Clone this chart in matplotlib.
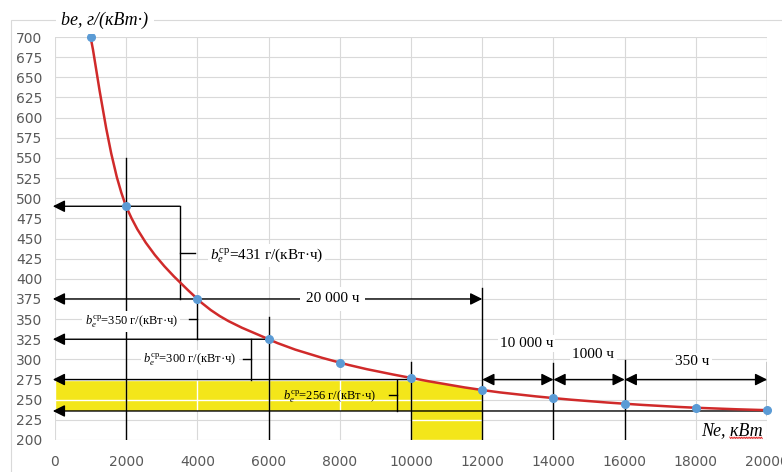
import numpy as np
import matplotlib.pyplot as plt
from matplotlib.path import Path
from matplotlib.patches import PathPatch, Polygon, Rectangle
from matplotlib.lines import Line2D

# specific fuel consumption vs engine power
ne = [1000, 2000, 4000, 6000, 8000, 10000, 12000, 14000, 16000, 18000, 20000]
be = [700, 490, 375, 325, 296, 277, 262, 252, 245, 240, 237]

x_ticks = list(range(0, 20001, 2000))
y_ticks = list(range(200, 701, 25))

be_mean = [431, 350, 300, 256]
hours = ["20 000 ч", "10 000 ч", "1000 ч", "350 ч"]

plt.rcParams["mathtext.fontset"] = "custom"
plt.rcParams["mathtext.rm"] = "Liberation Serif"
plt.rcParams["mathtext.it"] = "Liberation Serif:italic"

tick_font = ["Liberation Sans Narrow", "DejaVu Sans"]
serif = ["Liberation Serif", "DejaVu Serif"]

fig = plt.figure(figsize=(7.82, 4.72), dpi=100)
ax = fig.add_axes([0.0703, 0.0678, 0.9107, 0.8538])
ax.set_xlim(0, 20000)
ax.set_ylim(200, 700)
ax.set_xticks(x_ticks)
ax.set_yticks(y_ticks)
ax.grid(True, color="#d9d9d9", lw=0.8, zorder=0)
ax.set_axisbelow(True)
for s in ax.spines.values():
    s.set_visible(False)
ax.tick_params(length=0, colors="#595959", labelsize=10)
ax.tick_params(axis="x", pad=11)
ax.tick_params(axis="y", pad=9)
for lab in ax.get_xticklabels() + ax.get_yticklabels():
    lab.set_family(tick_font)

# chart frame
fig.patches.append(Rectangle((11 / 782, -0.1), 1.2, 1.1 - 20 / 472, transform=fig.transFigure,
                             fill=False, ec="#d9d9d9", lw=0.8))

# smooth curve through points (cubic bezier, catmull-rom control points)
pts = np.column_stack([ne, be]).astype(float)
verts = [pts[0]]
codes = [Path.MOVETO]
for i in range(len(pts) - 1):
    p0 = pts[i - 1] if i > 0 else pts[i]
    p1, p2 = pts[i], pts[i + 1]
    p3 = pts[i + 2] if i + 2 < len(pts) else pts[i + 1]
    verts += [p1 + (p2 - p0) / 6, p2 - (p3 - p1) / 6, p2]
    codes += [Path.CURVE4] * 3
curve = Path(verts, codes)

# yellow area
lo, hi = 236, 275
seg = curve.interpolated(40).vertices
seg = seg[(seg[:, 0] >= 10000) & (seg[:, 0] <= 12000)]
poly = [(0, lo), (0, hi), (10000, hi)] + [tuple(p) for p in seg] + \
       [(12000, 200), (10000, 200), (10000, lo)]
yellow = Polygon(poly, closed=True, fc="#f3e61a", ec="none", zorder=1)
ax.add_patch(yellow)
wl = ax.hlines(y_ticks, 0, 20000, colors="white", lw=1.0, zorder=1.1)
wl.set_clip_path(yellow)
wv = ax.vlines(x_ticks, 200, 700, colors="white", lw=1.0, zorder=1.1)
wv.set_clip_path(yellow)

ax.add_patch(PathPatch(curve, fc="none", ec="#d02a2a", lw=1.8, zorder=5))
ax.plot(ne, be, "o", color="#5b9bd5", ms=5.5, zorder=6, clip_on=False)

# construction lines
blk = dict(color="black", lw=1.0, zorder=3)


def arrow(x0, x1, y, style="-|>"):
    ax.annotate("", xy=(x1, y), xytext=(x0, y), annotation_clip=False,
                arrowprops=dict(arrowstyle=style + ",head_length=0.6,head_width=0.3",
                                mutation_scale=12, color="black", lw=1.0,
                                shrinkA=0, shrinkB=0), zorder=3)


for x, y0, y1 in [(2000, 200, 550), (6000, 200, 352), (10000, 200, 297),
                  (12000, 200, 389), (14000, 200, 296), (16000, 200, 299),
                  (20000, 231, 297)]:
    ax.plot([x, x], [y0, y1], **blk)

arrow(3500, -60, be[1])
arrow(-60, 12000, be[2], "<|-|>")
arrow(6000, -60, be[3])
arrow(10000, -60, 275)
arrow(20000, -60, lo)
arrow(12000, 14000, 275, "<|-|>")
arrow(14000, 16000, 275, "<|-|>")
arrow(16000, 20000, 275, "<|-|>")

# braces
for xb, y0, y1, d in [(3500, be[1], be[2], 420), (4000, be[2], be[3], -230),
                      (5500, be[3], 275, -230), (9600, 275, lo, -230)]:
    ax.plot([xb, xb], [y0, y1], **blk)
    ym = (y0 + y1) / 2
    ax.plot([xb, xb + d], [ym, ym], **blk)

box = dict(fc="white", ec="none", pad=1.5)
lbl = r"$b_e^{\mathrm{ср}}$=%d г/(кВт·ч)"
ax.text(4350, 429, lbl % be_mean[0], family=serif, fontsize=11, va="center", bbox=box, zorder=4)
ax.text(3450, 347, lbl % be_mean[1], family=serif, fontsize=9, va="center", ha="right", bbox=box, zorder=4)
ax.text(5100, 299, lbl % be_mean[2], family=serif, fontsize=9, va="center", ha="right", bbox=box, zorder=4)
ax.text(9030, 254, lbl % be_mean[3], family=serif, fontsize=9, va="center", ha="right", zorder=4)

ax.text(7800, 375, hours[0], family=serif, fontsize=11, ha="center", va="center",
        bbox=dict(fc="white", ec="none", pad=4), zorder=4)
ax.text(13240, 320, hours[1], family=serif, fontsize=11, ha="center", va="center", bbox=box, zorder=4)
ax.text(15120, 306, hours[2], family=serif, fontsize=11, ha="center", va="center", bbox=box, zorder=4)
ax.text(17900, 297, hours[3], family=serif, fontsize=11, ha="center", va="center", bbox=box, zorder=4)

# axis titles
fig.text(0.134, 1 - 20 / 472, "be, г/(кВт·)", family=serif, style="italic", fontsize=13,
         ha="center", va="center", bbox=dict(fc="white", ec="none", pad=4))
xt = ax.text(19000, 212, "Ne, кВт", family=serif, style="italic", fontsize=13,
             ha="center", va="center", zorder=4)

# spell-check squiggle under the unit
fig.canvas.draw()
bb = xt.get_window_extent()
sx = np.linspace(bb.x0 + 0.47 * bb.width, bb.x1, 40)
sy = bb.y0 + 1 + np.where(np.arange(40) % 2 == 0, 0.8, -0.8)
fig.lines.append(Line2D(sx / fig.bbox.width, sy / fig.bbox.height, transform=fig.transFigure,
                        color="#e03030", lw=0.6))

fig.savefig("out.png", dpi=100)
